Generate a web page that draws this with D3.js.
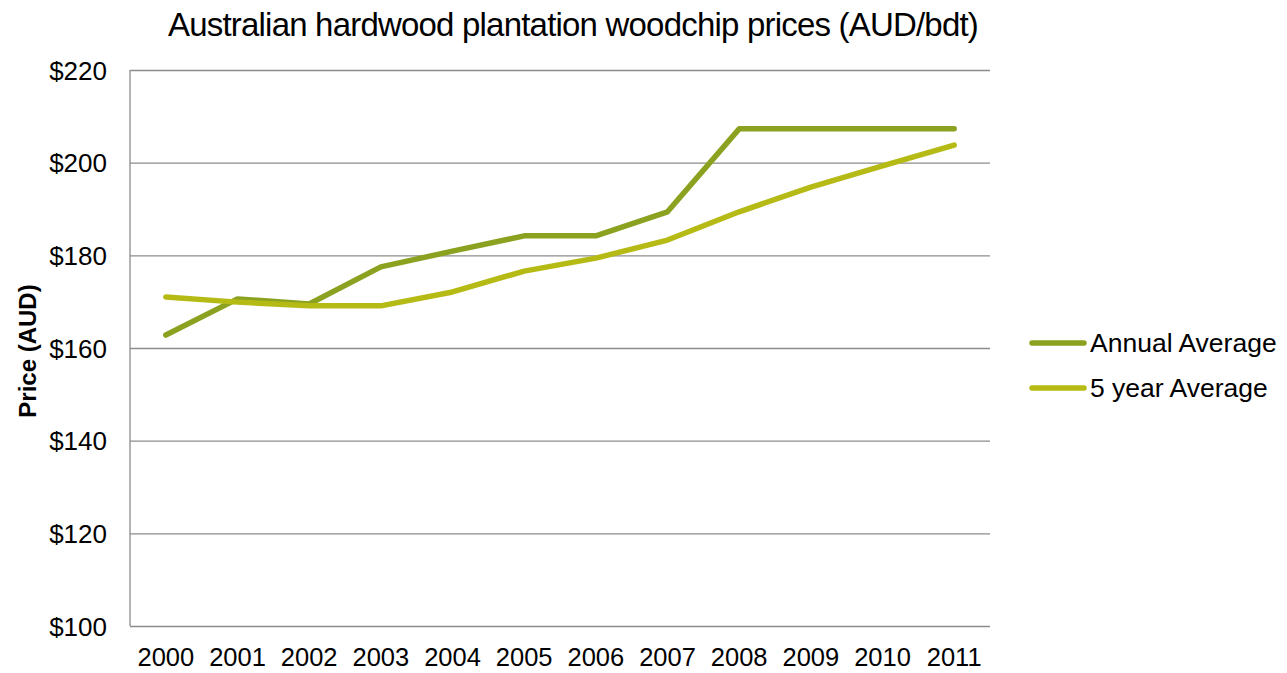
<!DOCTYPE html>
<html>
<head>
<meta charset="UTF-8">
<title>woodchip prices</title>
<script src="https://d3js.org/d3.v7.min.js"></script>
<style>
  body { margin: 0; background: #fff; }
  text { font-family: "Liberation Sans", Arial, sans-serif; }
</style>
</head>
<body>
<script>
// data
var years = ["2000","2001","2002","2003","2004","2005","2006","2007","2008","2009","2010","2011"];
var annualAvg = [162.8, 170.6, 169.5, 177.5, 180.9, 184.2, 184.2, 189.4, 207.3, 207.3, 207.3, 207.3];
var fiveYearAvg = [171.0, 169.9, 169.1, 169.1, 172.1, 176.6, 179.4, 183.3, 189.4, 194.7, 199.3, 203.8];
var yTicks = [100, 120, 140, 160, 180, 200, 220];
var seriesNames = ["Annual Average", "5 year Average"];
var colors = ["#8aa21f", "#b5ba15"];

var W = 1287, H = 673;
// plot box (don't call it top, clashes with window.top)
var pLeft = 130, pRight = 990, pTop = 70, pBottom = 626;

var svg = d3.select("body").append("svg")
  .attr("width", W)
  .attr("height", H);

var x = d3.scaleBand().domain(years).range([pLeft, pRight]);
var y = d3.scaleLinear().domain([100, 220]).range([pBottom, pTop]);

//gridlines + y labels
svg.append("g")
  .attr("transform", `translate(${pLeft},0)`)
  .call(d3.axisLeft(y).tickValues(yTicks).tickSize(-(pRight - pLeft)).tickFormat(d => "$" + d))
  .call(g => g.select(".domain").remove())
  .call(g => g.selectAll(".tick line").attr("stroke", "#8c8c8c").attr("stroke-width", 1.3))
  .call(g => g.selectAll(".tick text").attr("font-size", 26).attr("fill", "#000").attr("x", -23).attr("dy", "0.35em"));

// left axis line
svg.append("line")
  .attr("x1", pLeft).attr("x2", pLeft)
  .attr("y1", pTop).attr("y2", pBottom)
  .attr("stroke", "#8c8c8c").attr("stroke-width", 1.3);

// x axis labels
svg.append("g")
  .attr("transform", `translate(0,${pBottom})`)
  .call(d3.axisBottom(x).tickSize(0))
  .call(g => g.select(".domain").remove())
  .call(g => g.selectAll(".tick text").attr("font-size", 25.5).attr("fill", "#000").attr("y", 40).attr("dy", 0));

// lines
var line = d3.line()
  .x((d, i) => x(years[i]) + x.bandwidth() / 2)
  .y(d => y(d));

[annualAvg, fiveYearAvg].forEach((s, k) => {
  svg.append("path")
    .datum(s)
    .attr("d", line)
    .attr("fill", "none")
    .attr("stroke", colors[k])
    .attr("stroke-width", 5.5)
    .attr("stroke-linejoin", "round")
    .attr("stroke-linecap", "round");
});

// title
svg.append("text")
  .attr("x", 573).attr("y", 36)
  .attr("text-anchor", "middle")
  .attr("font-size", 33)
  .attr("letter-spacing", -0.8)
  .text("Australian hardwood plantation woodchip prices (AUD/bdt)");

// y title
svg.append("text")
  .attr("transform", "translate(36,351) rotate(-90)")
  .attr("text-anchor", "middle")
  .attr("font-size", 24)
  .attr("font-weight", "bold")
  .text("Price (AUD)");

// legend
var legend = svg.selectAll(".legend")
  .data(seriesNames)
  .enter()
  .append("g")
  .attr("transform", (d, i) => `translate(1032,${343 + i * 45})`);

legend.append("line")
  .attr("x1", 0).attr("x2", 52)
  .attr("stroke", (d, i) => colors[i])
  .attr("stroke-width", 5.5)
  .attr("stroke-linecap", "round");

legend.append("text")
  .attr("x", 58).attr("y", 9)
  .attr("font-size", 26.5)
  .text(d => d);
</script>
</body>
</html>
